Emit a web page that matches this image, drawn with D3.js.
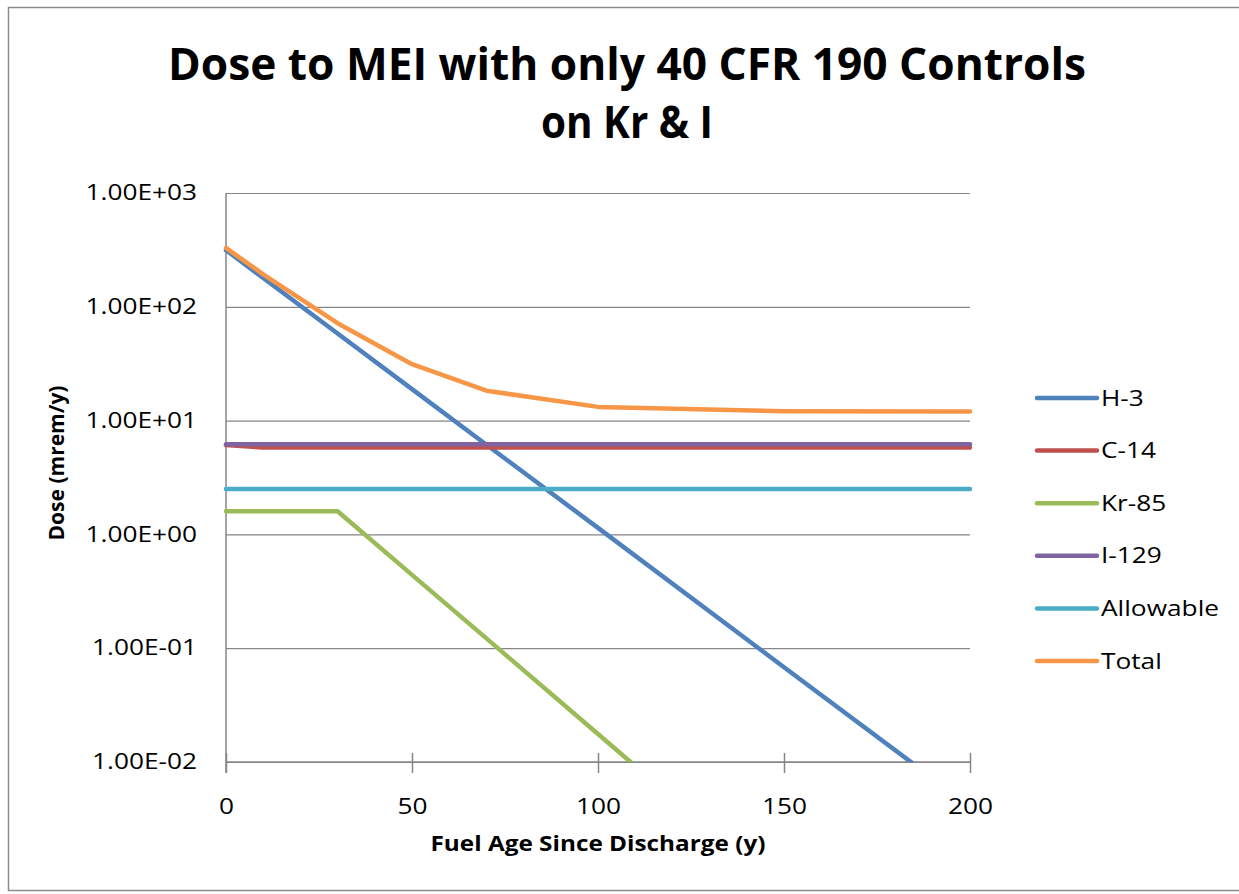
<!DOCTYPE html>
<html>
<head>
<meta charset="utf-8">
<script src="https://cdnjs.cloudflare.com/ajax/libs/d3/7.8.5/d3.min.js"></script>
<style>
    body { margin: 0; background: #fff; }
    text { font-family: "Open Sans", sans-serif; fill: #000; }
</style>
</head>
<body>
<script>
    // fuel age (y) at which each series was tabulated
    var years = [0, 10, 30, 50, 70, 100, 150, 200];

    // dose to MEI (mrem/y)
    var h3 = [315, 179, 58.2, 18.9, 6.14, 1.14, 0.068, 0.0041];
    var c14 = [6.1, 5.8, 5.8, 5.8, 5.8, 5.8, 5.8, 5.8];
    var kr85 = [1.6, 1.6, 1.6, 0.441, 0.122, 0.0176, 0.0007, 0.000028];
    var i129 = [6.2, 6.2, 6.2, 6.2, 6.2, 6.2, 6.2, 6.2];
    var allowable = [2.5, 2.5, 2.5, 2.5, 2.5, 2.5, 2.5, 2.5];
    var total = [329, 192.6, 71.8, 31.3, 18.3, 13.2, 12.1, 12.0];

    var seriesNames = ["H-3", "C-14", "Kr-85", "I-129", "Allowable", "Total"];
    var seriesValues = [h3, c14, kr85, i129, allowable, total];
    var seriesColors = ["#4F81BD", "#C0504D", "#9BBB59", "#8064A2", "#4BACC6", "#F79646"];

    var xTicks = [0, 50, 100, 150, 200];
    var yTicks = [1000, 100, 10, 1, 0.1, 0.01];
    var yTickLabels = ["1.00E+03", "1.00E+02", "1.00E+01", "1.00E+00", "1.00E-01", "1.00E-02"];

    var titleLines = ["Dose to MEI with only 40 CFR 190 Controls", "on Kr & I"];
    var xTitle = "Fuel Age Since Discharge (y)";
    var yTitle = "Dose (mrem/y)";

    (function() {
        var W = 1239, H = 894;
        var pLeft = 226, pRight = 970, pTop = 193, pBottom = 762;

        var svg = d3.select("body").append("svg")
            .attr("width", W)
            .attr("height", H);

        // the source picture is stretched sideways, so widen text to match
        function stretch(sel, k) {
            sel.each(function() {
                var w = this.getComputedTextLength();
                d3.select(this).attr("textLength", w * k).attr("lengthAdjust", "spacingAndGlyphs");
            });
        }
        function fitWidth(sel, w) {
            sel.attr("textLength", w).attr("lengthAdjust", "spacingAndGlyphs");
        }

        svg.append("rect")
            .attr("x", 8.5).attr("y", 7.5)
            .attr("width", 1250).attr("height", 883)
            .attr("fill", "none")
            .attr("stroke", "#8c8c8c")
            .attr("stroke-width", 1.5);

        var x = d3.scaleLinear().domain([0, 200]).range([pLeft, pRight]);
        var y = d3.scaleLog().domain([0.01, 1000]).range([pBottom, pTop]);

        // gridlines
        svg.append("g")
            .attr("transform", "translate(" + pLeft + ",0)")
            .call(d3.axisLeft(y).tickValues(yTicks).tickSize(-(pRight - pLeft)).tickFormat(""))
            .call(function(g) {
                g.select(".domain").remove();
                g.selectAll("line").attr("stroke", "#868686").attr("stroke-width", 1.2);
            });

        // y axis
        var yAxis = svg.append("g")
            .attr("transform", "translate(" + pLeft + ",0)")
            .call(d3.axisLeft(y).tickValues(yTicks).tickSize(0).tickPadding(29)
                .tickFormat(function(d, i) { return yTickLabels[i]; }));
        yAxis.select(".domain").remove();
        yAxis.selectAll("text").attr("font-size", 21).attr("font-family", "Open Sans").attr("fill", "#000")
            .call(stretch, 1.25);
        svg.append("line")
            .attr("x1", pLeft).attr("x2", pLeft)
            .attr("y1", pTop).attr("y2", pBottom + 11)
            .attr("stroke", "#868686").attr("stroke-width", 1.5);

        // x axis, tick marks cross the axis line
        var xAxis = svg.append("g")
            .attr("transform", "translate(0," + pBottom + ")")
            .call(d3.axisBottom(x).tickValues(xTicks).tickSize(11).tickPadding(26));
        xAxis.select(".domain").attr("stroke", "#868686").attr("stroke-width", 1.5)
            .attr("d", "M" + pLeft + ",0H" + pRight);
        xAxis.selectAll(".tick line").attr("y1", -9).attr("y2", 11)
            .attr("stroke", "#868686").attr("stroke-width", 1.5);
        xAxis.selectAll("text").attr("font-size", 21).attr("font-family", "Open Sans").attr("fill", "#000")
            .call(stretch, 1.25);

        // series lines, clipped to the plot area like the log axis does
        svg.append("clipPath").attr("id", "plot")
            .append("rect")
            .attr("x", pLeft - 5).attr("y", pTop)
            .attr("width", pRight - pLeft + 10).attr("height", pBottom - pTop);

        var line = d3.line()
            .x(function(d, i) { return x(years[i]); })
            .y(function(d) { return y(d); });

        svg.append("g")
            .attr("clip-path", "url(#plot)")
            .selectAll("path")
            .data(seriesValues)
            .join("path")
            .attr("d", line)
            .attr("fill", "none")
            .attr("stroke", function(d, i) { return seriesColors[i]; })
            .attr("stroke-width", 4.5)
            .attr("stroke-linejoin", "round")
            .attr("stroke-linecap", "round");

        // legend
        var legend = svg.append("g")
            .selectAll("g")
            .data(seriesNames)
            .join("g")
            .attr("transform", function(d, i) { return "translate(1037," + (398 + i * 52.6) + ")"; });
        legend.append("line")
            .attr("x1", 0).attr("x2", 60)
            .attr("stroke", function(d, i) { return seriesColors[i]; })
            .attr("stroke-width", 4.5)
            .attr("stroke-linecap", "round");
        legend.append("text")
            .attr("x", 64)
            .attr("dy", "0.36em")
            .attr("font-size", 21)
            .text(function(d) { return d; })
            .call(stretch, 1.25);

        // titles
        var titleWidths = [918, 172];
        svg.append("g")
            .selectAll("text")
            .data(titleLines)
            .join("text")
            .attr("x", 627)
            .attr("y", function(d, i) { return 80 + i * 58; })
            .attr("text-anchor", "middle")
            .attr("font-size", 44)
            .attr("font-weight", "bold")
            .text(function(d) { return d; })
            .each(function(d, i) { d3.select(this).call(fitWidth, titleWidths[i]); });

        svg.append("text")
            .attr("x", (pLeft + pRight) / 2)
            .attr("y", 851)
            .attr("text-anchor", "middle")
            .attr("font-size", 21)
            .attr("font-weight", "bold")
            .text(xTitle)
            .call(fitWidth, 335);

        svg.append("text")
            .attr("transform", "translate(64,463) rotate(-90)")
            .attr("text-anchor", "middle")
            .attr("font-size", 21)
            .attr("font-weight", "bold")
            .text(yTitle)
            .call(fitWidth, 155);
    })();
</script>
</body>
</html>
